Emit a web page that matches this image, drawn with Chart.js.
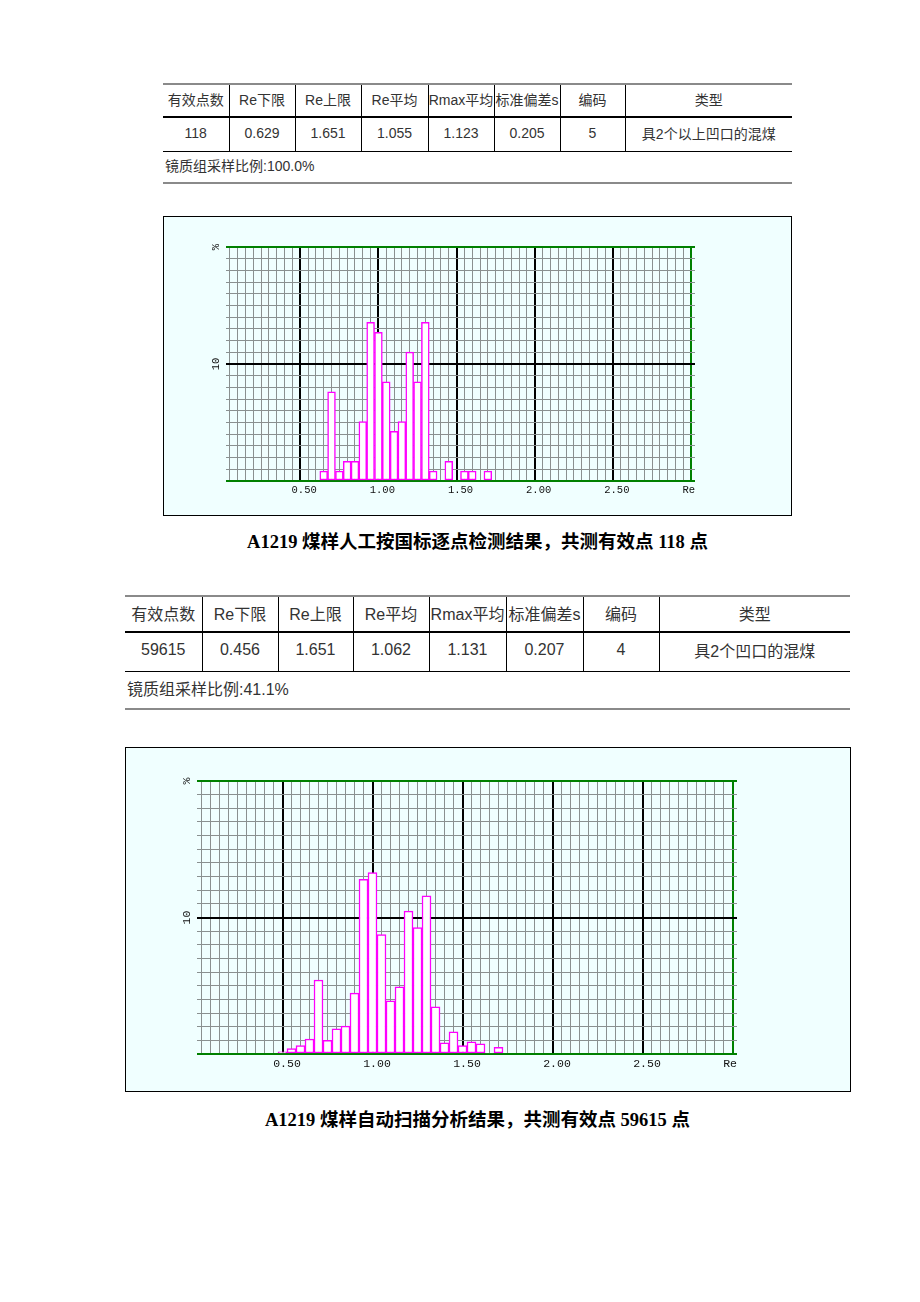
<!DOCTYPE html>
<html>
<head>
<meta charset="utf-8">
<script src="https://cdn.jsdelivr.net/npm/chart.js@4.4.1/dist/chart.umd.min.js"></script>
<style>
body{margin:0;background:#fff;width:920px;height:1302px;position:relative;font-family:Arial,"Liberation Sans","Noto Sans CJK SC",sans-serif;}
table.res{position:absolute;border-collapse:collapse;table-layout:fixed;color:#333;}
table.res td{text-align:center;padding:0 0 3px 0;border-left:1px solid #000;white-space:nowrap;}
table.res td:first-child{border-left:none;}
table.res tr.hd td{border-top:2px solid #8a8a8a;border-bottom:2px solid #000;}
table.res tr.dt td{border-bottom:1px solid #000;}
table.res tr.nt td{text-align:left;border-bottom:2px solid #8a8a8a;padding-left:2px;}
.frame{position:absolute;box-sizing:border-box;border:1px solid #000;background:#f0ffff;}
.frame canvas{display:block;}
.cap{position:absolute;left:0;width:955px;text-align:center;font-family:"Liberation Serif","Noto Sans CJK SC",serif;font-weight:bold;font-size:18.5px;color:#000;}
</style>
</head>
<body>

<table class="res" id="t1" style="left:163px;top:83px;width:629px;font-size:14px;">
<colgroup><col style="width:66px"><col style="width:66px"><col style="width:66px"><col style="width:67px"><col style="width:66px"><col style="width:66px"><col style="width:65px"><col style="width:167px"></colgroup>
<tr class="hd" style="height:33px"></tr>
<tr class="dt" style="height:34px"></tr>
<tr class="nt" style="height:32px"><td colspan="8"></td></tr>
</table>

<div class="frame" style="left:163px;top:216px;width:629px;height:300px;"><canvas id="c1" width="627" height="298"></canvas></div>
<div class="cap" style="top:527px;" id="cap1"></div>

<table class="res" id="t2" style="left:125px;top:595px;width:725px;font-size:16px;">
<colgroup><col style="width:77px"><col style="width:76px"><col style="width:75px"><col style="width:76px"><col style="width:77px"><col style="width:77px"><col style="width:76px"><col style="width:191px"></colgroup>
<tr class="hd" style="height:36px"></tr>
<tr class="dt" style="height:39px"></tr>
<tr class="nt" style="height:38px"><td colspan="8"></td></tr>
</table>

<div class="frame" style="left:125px;top:747px;width:726px;height:345px;"><canvas id="c2" width="724" height="343"></canvas></div>
<div class="cap" style="top:1105px;" id="cap2"></div>

<script>
// table contents
var headers = ["有效点数", "Re下限", "Re上限", "Re平均", "Rmax平均", "标准偏差s", "编码", "类型"];
var row1 = ["118", "0.629", "1.651", "1.055", "1.123", "0.205", "5", "具2个以上凹口的混煤"];
var row2 = ["59615", "0.456", "1.651", "1.062", "1.131", "0.207", "4", "具2个凹口的混煤"];
var note1 = "镜质组采样比例:100.0%";
var note2 = "镜质组采样比例:41.1%";
var caption1 = "A1219 煤样人工按国标逐点检测结果，共测有效点 118 点";
var caption2 = "A1219 煤样自动扫描分析结果，共测有效点 59615 点";

// histogram 1 (bin lower edge, % of points)
var re1 = [0.60, 0.65, 0.70, 0.75, 0.80, 0.85, 0.90, 0.95, 1.00, 1.05, 1.10, 1.15, 1.20, 1.25, 1.30, 1.35, 1.40, 1.45, 1.50, 1.55, 1.60, 1.65];
var pct1 = [0.85, 7.63, 0.85, 1.69, 1.69, 5.08, 13.56, 12.71, 8.47, 4.24, 5.08, 11.02, 8.47, 13.56, 0.85, 0, 1.69, 0, 0.85, 0.85, 0, 0.85];

// histogram 2
var re2 = [0.45, 0.50, 0.55, 0.60, 0.65, 0.70, 0.75, 0.80, 0.85, 0.90, 0.95, 1.00, 1.05, 1.10, 1.15, 1.20, 1.25, 1.30, 1.35, 1.40, 1.45, 1.50, 1.55, 1.60, 1.65];
var pct2 = [0.15, 0.39, 0.62, 1.10, 5.42, 1.00, 1.85, 2.04, 4.46, 12.8, 13.3, 8.74, 3.89, 4.93, 10.47, 9.26, 11.58, 3.45, 0.81, 1.63, 0.62, 0.89, 0.74, 0.07, 0.49];

var binWidth = 0.05;
var xTickValues = [0.5, 1.0, 1.5, 2.0, 2.5, 3.0];
var xTickText = ["0.50", "1.00", "1.50", "2.00", "2.50", "Re  "];
var yTickValues = [10, 20];
var yTickText = ["10", "%"];

function fillTable(id, row, note) {
	var t = document.getElementById(id);
	var trs = t.getElementsByTagName("tr");
	for (var i = 0; i < headers.length; i++) {
		var h = document.createElement("td");
		h.textContent = headers[i];
		trs[0].appendChild(h);
		var d = document.createElement("td");
		d.textContent = row[i];
		trs[1].appendChild(d);
	}
	trs[2].firstChild.textContent = note;
}
fillTable("t1", row1, note1);
fillTable("t2", row2, note2);
document.getElementById("cap1").textContent = caption1;
document.getElementById("cap2").textContent = caption2;

function gridColor(c, scale, major, last) {
	if (!c.tick) return "#8a9090";
	var v = Math.round(c.tick.value * scale);
	if (v === 0 || v === last) return "#008000";
	if (v % major === 0) return "#000000";
	return "#8a9090";
}
function gridWidth(c, scale, major) {
	if (!c.tick) return 1;
	return Math.round(c.tick.value * scale) % major === 0 ? 2 : 1;
}

function makeChart(id, re, pct, fontSize, pad) {
	var pts = [];
	for (var i = 0; i < re.length; i++) {
		pts.push({x: re[i] + binWidth / 2, y: pct[i] > 0 ? pct[i] : null});
	}
	var font = {family: "'Liberation Mono', 'DejaVu Sans Mono', monospace", size: fontSize};
	return new Chart(document.getElementById(id), {
		type: "bar",
		data: {
			datasets: [{
				data: pts,
				backgroundColor: "#ffffff",
				borderColor: "#ff00ff",
				borderWidth: 1.5,
				borderSkipped: false,
				barPercentage: 1,
				categoryPercentage: 1
			}]
		},
		options: {
			responsive: false,
			animation: false,
			layout: {padding: pad},
			plugins: {legend: {display: false}, tooltip: {enabled: false}},
			scales: {
				x: {
					type: "linear",
					offset: false,
					min: 0,
					max: 3,
					afterFit: function(s) { s.height = 16; },
					border: {display: false},
					grid: {
						drawTicks: false,
						color: function(c) { return gridColor(c, 100, 50, 300); },
						lineWidth: function(c) { return gridWidth(c, 100, 50); }
					},
					ticks: {
						stepSize: binWidth,
						autoSkip: false,
						maxRotation: 0,
						padding: 3,
						color: "#111",
						font: font,
						callback: function(v) {
							for (var k = 0; k < xTickValues.length; k++) {
								if (Math.abs(v - xTickValues[k]) < 1e-6) return xTickText[k];
							}
							return "";
						}
					}
				},
				y: {
					min: 0,
					max: 20,
					afterFit: function(s) { s.width = 20; },
					border: {display: false},
					grid: {
						drawTicks: false,
						color: function(c) { return gridColor(c, 1, 10, 20); },
						lineWidth: function(c) { return gridWidth(c, 1, 10); }
					},
					ticks: {
						stepSize: 1,
						autoSkip: false,
						minRotation: 90,
						maxRotation: 90,
						crossAlign: "center",
						padding: 3,
						color: "#111",
						font: font,
						callback: function(v) {
							var k = yTickValues.indexOf(v);
							return k >= 0 ? yTickText[k] : "";
						}
					}
				}
			}
		}
	});
}

makeChart("c1", re1, pct1, 10.5, {left: 42, right: 96, top: 30, bottom: 18});
makeChart("c2", re2, pct2, 11.5, {left: 51, right: 113, top: 33, bottom: 21});
</script>
</body>
</html>
